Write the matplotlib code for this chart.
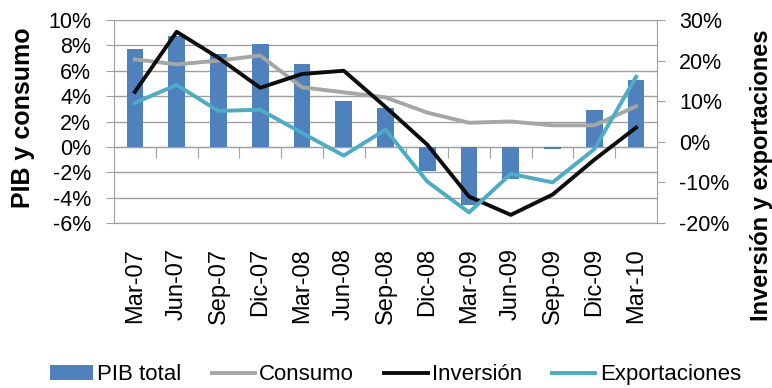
import numpy as np
import matplotlib.pyplot as plt
from matplotlib.ticker import FuncFormatter

plt.rcParams['font.family'] = ['Liberation Sans', 'DejaVu Sans']

trimestres = ['Mar-07', 'Jun-07', 'Sep-07', 'Dic-07', 'Mar-08', 'Jun-08', 'Sep-08',
              'Dic-08', 'Mar-09', 'Jun-09', 'Sep-09', 'Dic-09', 'Mar-10']
pib_total = [7.7, 8.7, 7.3, 8.1, 6.5, 3.6, 3.1, -1.9, -4.6, -2.5, -0.2, 2.9, 5.3]
consumo = [6.9, 6.5, 6.8, 7.2, 4.7, 4.3, 3.9, 2.7, 1.9, 2.0, 1.7, 1.7, 3.2]
inversion = [12.3, 27.1, 20.7, 13.3, 16.7, 17.5, 8.6, -0.7, -13.5, -18.0, -13.0, -4.4, 3.5]
exportaciones = [9.6, 14.0, 7.6, 7.9, 2.2, -3.4, 3.0, -9.8, -17.4, -7.9, -10.0, -1.8, 16.0]

gris = '#A0A0A0'
x = np.arange(len(trimestres))
pct = FuncFormatter(lambda v, p: f'{v:.0f}%')

fig = plt.figure(figsize=(7.72, 3.88), dpi=100)
ax = fig.add_axes([114 / 772, 1 - 223 / 388, 543 / 772, 203 / 388])

barras = ax.bar(x, pib_total, width=0.4, color='#4F81BD', zorder=2, label='PIB total')
l_cons, = ax.plot(x, consumo, color='#A6A6A6', lw=2.8, zorder=3, label='Consumo')
ax.set_xlim(-0.5, len(trimestres) - 0.5)
ax.set_ylim(-6, 10)
ax.set_yticks(np.arange(-6, 11, 2))
ax.yaxis.set_major_formatter(pct)
ax.grid(axis='y', color=gris, lw=1.0, zorder=0)
ax.set_axisbelow(True)

ax.set_xticks(x)
ax.set_xticklabels(trimestres, rotation=90, fontsize=17)
ax.tick_params(axis='x', length=0, pad=18)
ax.tick_params(axis='y', length=6, color=gris, pad=10.5, labelsize=15.5)
for s in ['top', 'right']:
    ax.spines[s].set_visible(False)
ax.spines['left'].set_color(gris)
ax.spines['bottom'].set_color(gris)

# eje de categorias sobre el 0%
sec = ax.secondary_xaxis(6 / 16)
sec.set_xticks(x[:-1] + 0.5)
sec.set_xticklabels([])
sec.tick_params(length=8, color=gris)
sec.spines['bottom'].set_color(gris)
sec.spines['bottom'].set_visible(True)

ax.set_ylabel('PIB y consumo', fontsize=18, fontweight='bold')
ax.yaxis.set_label_coords(-0.1455, 0.517)

ax2 = ax.twinx()
l_inv, = ax2.plot(x, inversion, color='#0D0D0D', lw=2.8, zorder=3, label='Inversión')
l_exp, = ax2.plot(x, exportaciones, color='#4BACC6', lw=2.8, zorder=3, label='Exportaciones')
ax2.set_ylim(-20, 30)
ax2.set_yticks(np.arange(-20, 31, 10))
ax2.yaxis.set_major_formatter(pct)
ax2.tick_params(axis='y', length=6, color=gris, pad=10, labelsize=15.5)
for s in ['top', 'left', 'bottom']:
    ax2.spines[s].set_visible(False)
ax2.spines['right'].set_color(gris)
ax2.set_ylabel('Inversión y exportaciones', fontsize=17, fontweight='bold', rotation=90)
ax2.yaxis.set_label_coords(1.171, 0.236)

handles = [barras, l_cons, l_inv, l_exp]
etiquetas = ['PIB total', 'Consumo', 'Inversión', 'Exportaciones']
fig.legend(handles, etiquetas, loc='center', ncol=4,
           bbox_to_anchor=(0.512, 0.034), frameon=False, fontsize=16,
           handlelength=1.95, handletextpad=0.2, columnspacing=1.35)

fig.savefig('out.png', dpi=100)
